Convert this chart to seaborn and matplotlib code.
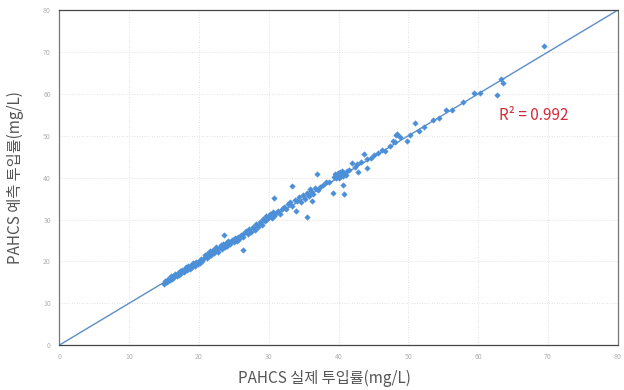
import numpy as np
import pandas as pd
import matplotlib
matplotlib.use("Agg")
import matplotlib.pyplot as plt
import seaborn as sns

# actual vs predicted dosage (mg/L)
actual = [
    15.0, 15.2, 15.4, 15.6, 15.8, 16.0, 16.1, 16.3, 16.5, 16.6, 16.8, 17.0, 17.1, 17.3, 17.5, 17.6,
    17.8, 18.0, 18.2, 18.3, 18.5, 18.7, 18.9, 19.0, 19.2, 19.4, 19.6, 19.8, 20.0, 20.1, 20.3, 20.5,
    20.7, 20.9, 21.1, 21.3, 21.5, 21.6, 21.8, 22.0, 22.2, 22.4, 22.5, 22.7, 22.9, 23.1, 23.3, 23.5,
    23.7, 23.9, 24.0, 24.2, 24.5, 24.7, 25.0, 25.2, 25.4, 25.6, 25.8, 23.6, 26.3,
    26.0, 26.3, 26.5, 26.8, 27.0, 27.2, 27.5, 27.7, 28.0, 28.2, 28.5, 28.7, 29.0, 29.2, 29.4, 29.6,
    29.8, 30.0, 30.2, 30.4, 30.6, 30.8, 31.0, 31.3, 31.6, 31.9, 32.2, 32.5, 32.8, 33.1, 33.4, 33.7,
    30.8, 33.4, 33.9, 35.5, 36.2, 35.9, 36.9,
    34.0, 34.3, 34.6, 34.9, 35.2, 35.5, 35.8, 36.1, 36.4, 36.7, 37.0, 37.4, 37.8, 38.2, 38.6,
    39.3, 39.5, 39.6, 39.8, 39.9, 40.0, 40.1, 40.2, 40.3, 40.4, 40.5, 40.6, 40.8, 41.0, 41.2,
    39.2, 40.8, 40.6, 42.8, 44.1,
    41.5, 41.9, 42.3, 42.7, 43.2, 43.6, 44.1, 44.6, 45.1, 45.6, 46.2, 46.6, 47.4, 48.1, 48.4, 48.8,
    47.8, 48.2, 49.8, 50.3, 50.9, 51.6, 52.3, 53.5, 54.4, 55.4, 56.2, 57.8, 59.4, 60.3, 62.7, 63.5,
    63.3, 69.4,
]
predicted = [
    14.6, 15.3, 15.0, 15.9, 15.5, 16.4, 15.8, 16.6, 16.2, 17.0, 16.5, 17.3, 16.8, 17.6, 17.2, 17.9,
    17.5, 18.1, 18.6, 17.9, 18.8, 18.3, 19.2, 18.7, 19.5, 19.0, 19.9, 19.4, 20.2, 19.7, 20.6, 20.1,
    20.9, 21.5, 20.8, 21.9, 21.2, 22.4, 21.6, 22.7, 22.0, 22.9, 23.5, 22.3, 23.3, 23.8, 22.9, 24.1,
    23.4, 24.3, 23.6, 24.8, 24.2, 25.0, 24.6, 25.6, 24.9, 25.9, 25.3, 26.3, 22.7,
    26.4, 25.8, 26.9, 27.3, 26.6, 27.8, 27.1, 28.3, 27.6, 28.9, 28.2, 29.4, 28.7, 30.2, 29.6, 30.8,
    30.1, 30.6, 31.2, 30.3, 31.7, 30.9, 31.6, 32.1, 31.4, 32.6, 33.1, 32.4, 33.6, 34.2, 33.2, 34.7,
    35.1, 37.9, 32.0, 30.5, 34.4, 37.2, 40.8,
    34.5, 35.3, 34.1, 35.8, 35.0, 36.4, 35.6, 36.9, 36.2, 37.5, 37.0, 37.8, 38.3, 38.9, 39.0,
    40.2, 40.9, 39.8, 40.5, 41.2, 40.0, 40.8, 41.4, 40.3, 40.9, 41.6, 40.4, 41.1, 40.7, 41.5,
    36.3, 36.0, 38.2, 41.3, 42.2,
    41.8, 43.4, 42.5, 43.3, 43.8, 45.6, 44.5, 44.6, 45.5, 46.0, 46.6, 46.3, 47.6, 48.5, 50.4, 49.6,
    48.7, 50.1, 48.7, 50.1, 53.0, 51.2, 52.0, 53.7, 54.3, 56.1, 56.1, 58.0, 60.1, 60.1, 59.7, 62.5,
    63.6, 71.4,
]
fit_x = [0, 80]
fit_y = [0, 80]
ticks = [0, 10, 20, 30, 40, 50, 60, 70, 80]

df = pd.DataFrame({"actual": actual, "predicted": predicted})
fit = pd.DataFrame({"x": fit_x, "y": fit_y})

sns.set_style("white")
plt.rcParams["font.family"] = ["Noto Sans CJK KR", "DejaVu Sans"]

fig = plt.figure(figsize=(6.24, 3.9), dpi=100)
ax = fig.add_axes([0.095, 0.115, 0.895, 0.859])

sns.lineplot(data=fit, x="x", y="y", ax=ax, color="#5b8ec6", linewidth=1.0, zorder=2)
sns.scatterplot(data=df, x="actual", y="predicted", ax=ax, marker="D", s=8,
                color="#4a8fd8", edgecolor="#4a8fd8", linewidth=0.3, zorder=3)

ax.set_xlim(0, 80)
ax.set_ylim(0, 80)
ax.set_xticks(ticks)
ax.set_yticks(ticks)
ax.tick_params(labelsize=5, colors="#b0b0b0", length=0, pad=6)
ax.grid(True, linestyle=(0, (1, 2)), color="#d8d8d8", linewidth=0.6)

for side in ["left", "right"]:
    ax.spines[side].set_color("#777777")
    ax.spines[side].set_linewidth(0.9)
for side in ["top", "bottom"]:
    ax.spines[side].set_color("#444444")
    ax.spines[side].set_linestyle((0, (1, 1)))
    ax.spines[side].set_linewidth(0.9)

ax.set_xlabel("PAHCS 실제 투입률(mg/L)", fontsize=11, color="#555555", va="center")
ax.set_ylabel("PAHCS 예측 투입률(mg/L)", fontsize=11, color="#555555", va="center")
ax.xaxis.set_label_coords(0.474, -0.098)
ax.yaxis.set_label_coords(-0.079, 0.5)

ax.text(68.0, 54.9, "R² = 0.992", fontsize=11, color="#d42a3a", ha="center", va="center")

fig.savefig("out.png", dpi=100)
